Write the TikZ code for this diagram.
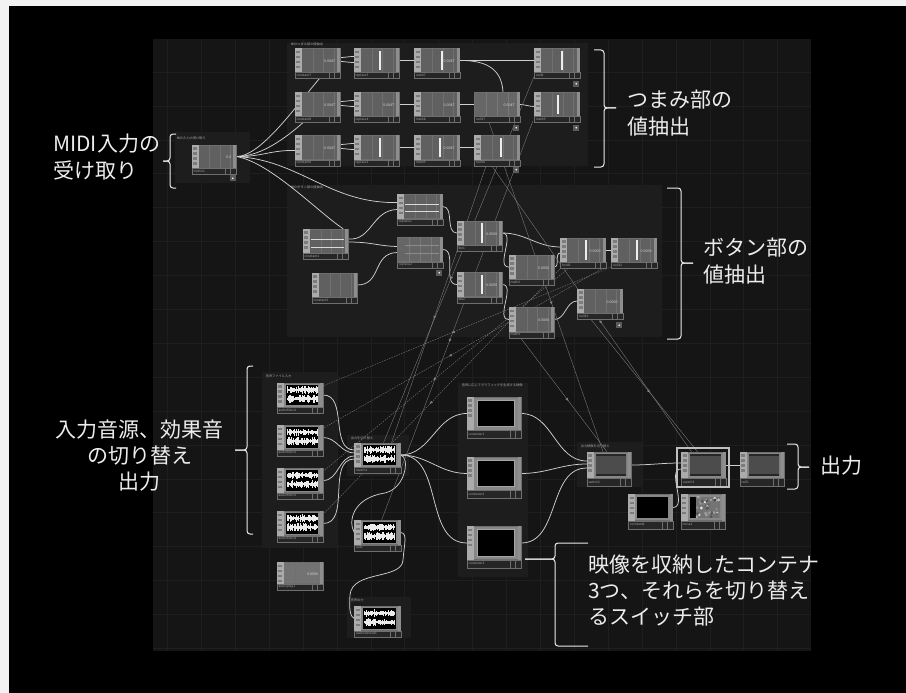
\documentclass[tikz,border=0pt]{standalone}
\usepackage{fontspec}
\setmainfont{Noto Sans CJK JP}
\usetikzlibrary{calc,decorations.markings}
\definecolor{panelc}{HTML}{151515}
\definecolor{gridc}{HTML}{1F1F1F}
\definecolor{grpc}{HTML}{1D1D1D}
\definecolor{chopc}{HTML}{606060}
\definecolor{chopln}{HTML}{707070}
\definecolor{flatc}{HTML}{666666}
\definecolor{flatln}{HTML}{787878}
\definecolor{stripc}{HTML}{ABABAB}
\definecolor{iconc}{HTML}{7C7C7C}
\definecolor{striprc}{HTML}{8E8E8E}
\definecolor{lbarc}{HTML}{262626}
\definecolor{lbard}{HTML}{6E6E6E}
\definecolor{lblc}{HTML}{A8A8A8}
\definecolor{wirec}{HTML}{CFCFCF}
\definecolor{refc}{HTML}{808080}
\definecolor{framec}{HTML}{878787}
\definecolor{innerbd}{HTML}{A5A5A5}
\definecolor{annc}{HTML}{ECECEC}
\definecolor{barc}{HTML}{EDEDED}
\definecolor{flagc}{HTML}{5A5A5A}
\definecolor{borderc}{HTML}{F2F2F2}
\pgfdeclarelayer{bg}
\pgfdeclarelayer{wl}
\pgfsetlayers{bg,wl,main}
\tikzset{
  opbody/.style={draw=lbard, line width=0.4pt, fill=chopc, inner sep=0pt, minimum width=45pt, minimum height=24pt},
  audbody/.style={opbody, fill=framec, minimum width=46pt, minimum height=24pt},
  contbody/.style={opbody, fill=framec, minimum width=54pt, minimum height=33pt},
  topbody/.style={opbody, fill=framec, minimum width=44pt, minimum height=26pt},
  lbltext/.style={font=\fontsize{3.2}{3.5}\selectfont, text=lblc, anchor=west, inner sep=0pt},
  valtext/.style={font=\fontsize{3.6}{4}\selectfont, text=white!85!black, inner sep=0pt, anchor=east},
  grptitle/.style={font=\fontsize{3.2}{3.5}\selectfont, text=lblc, anchor=south west, inner sep=0.6pt},
  wire/.style={draw=wirec, line width=0.75pt},
  refline/.style={draw=refc, line width=0.35pt, postaction={decorate},
    decoration={markings, mark=at position 0.55 with {\fill[refc] (1.4pt,0pt) -- (-1.6pt,1.4pt) -- (-1.6pt,-1.4pt) -- cycle;}}},
  refdash/.style={refline, dash pattern=on 1.6pt off 1pt},
  ann/.style={font=\fontsize{21}{27}\selectfont, text=annc, inner sep=0pt},
  ann3/.style={font=\fontsize{21}{26}\selectfont, text=annc, inner sep=0pt},
  bracec/.style={draw=annc, line width=1pt, rounded corners=3pt},
}
\newcommand\opfoot[3]{%
  \fill[striprc] ([xshift=-3pt]#1.north east) rectangle (#1.south east);
  \draw[draw=lbard,fill=lbarc,line width=0.4pt] (#1.south west) rectangle ([yshift=-#3pt]#1.south east);
  \draw[lbard,line width=0.3pt] ([xshift=-11pt]#1.south east) -- ++(0pt,-#3pt) ([xshift=-6pt]#1.south east) -- ++(0pt,-#3pt);
  \node[lbltext] (#1-l) at ([xshift=1.5pt,yshift=-#3pt/2]#1.south west) {#2};}
\newcommand\opdeco[3]{%
  \fill[stripc] (#1.north west) rectangle ([xshift=7pt]#1.south west);
  \foreach \kk in {0,1,2,3}{\fill[iconc] ([xshift=1.5pt,yshift=-2.5pt-\kk*5pt]#1.north west) rectangle ++(4pt,-2.6pt);}
  \opfoot{#1}{#2}{#3}}
\newcommand\chop[5][opbody]{%
  \node[#1] (#2) at (#3,#4) {};
  \foreach \ff in {0.4,0.63,0.86}{\draw[chopln,line width=0.3pt] ($(#2.north west)!\ff!(#2.north east)$) -- ($(#2.south west)!\ff!(#2.south east)$);}
  \opdeco{#2}{#5}{6}}
\newcommand\flatop[4]{%
  \node[opbody,fill=flatc] (#1) at (#2,#3) {};
  \foreach \ff in {0.25,0.5,0.75}{\draw[flatln,line width=0.3pt] ($(#1.north west)!\ff!(#1.north east)$) -- ($(#1.south west)!\ff!(#1.south east)$);}
  \opfoot{#1}{#4}{6}}
\newcommand\vbar[2]{\fill[barc] ([xshift=#2pt-1pt,yshift=-2.5pt]#1.north) rectangle ([xshift=#2pt+1.3pt,yshift=2.5pt]#1.south);}
\newcommand\vtext[2]{\node[valtext] (#1-v) at ([xshift=-5pt,yshift=-1pt]#1.east) {#2};}
\newcommand\hln[3]{\draw[#3,line width=0.6pt] ([xshift=8pt,yshift=-#2pt]#1.north west) -- ([xshift=-4pt,yshift=-#2pt]#1.north east);}
\newcommand\flagsq[2]{%
  \fill[flagc] ([xshift=-6.5pt,yshift=-#2pt]#1.south east) rectangle ([xshift=-0.5pt,yshift=-#2pt-6pt]#1.south east);
  \fill[white] ([xshift=-3.5pt,yshift=-#2pt-3pt]#1.south east) circle (0.9pt);}
\newcommand\aud[4]{%
  \node[audbody] (#1) at (#2,#3) {};
  \fill[black] ([xshift=9pt,yshift=-2pt]#1.north west) rectangle ([xshift=-5pt,yshift=2pt]#1.south east);
  \foreach \i in {0,...,30}{\pgfmathsetmacro\hwa{0.8+3.2*rnd}\pgfmathsetmacro\hwb{0.8+3.4*rnd}
    \draw[white!92!black,line width=0.9pt] ([xshift=10.3pt+\i*1pt,yshift=-7pt+\hwa pt]#1.north west) -- ++(0pt,-2*\hwa pt);
    \draw[white!92!black,line width=0.9pt] ([xshift=10.3pt+\i*1pt,yshift=-16pt+\hwb pt]#1.north west) -- ++(0pt,-2*\hwb pt);}
  \opdeco{#1}{#4}{6}}
\newcommand\cont[4]{%
  \node[contbody] (#1) at (#2,#3) {};
  \filldraw[fill=black, draw=innerbd, line width=1.2pt] ([xshift=11pt,yshift=-3.5pt]#1.north west) rectangle ([xshift=-7pt,yshift=3.5pt]#1.south east);
  \opdeco{#1}{#4}{8}}
\newcommand\topg[4]{%
  \node[topbody] (#1) at (#2,#3) {};
  \shade[top color=black!70, middle color=white!68!black, bottom color=black!70] ([xshift=9pt,yshift=-2.5pt]#1.north west) rectangle ([xshift=-5pt,yshift=2.5pt]#1.south east);
  \fill[black!85] ([xshift=9pt,yshift=-2.5pt]#1.north west) rectangle ([xshift=-5pt,yshift=-4.5pt]#1.north east);
  \fill[black!85] ([xshift=9pt,yshift=2.5pt]#1.south west) rectangle ([xshift=-5pt,yshift=4.5pt]#1.south east);
  \opdeco{#1}{#4}{8}}
\newcommand\topk[4]{%
  \node[topbody] (#1) at (#2,#3) {};
  \fill[black] ([xshift=9pt,yshift=-2.5pt]#1.north west) rectangle ([xshift=-5pt,yshift=2.5pt]#1.south east);
  \opdeco{#1}{#4}{8}}
\newcommand\topnoise[4]{%
  \node[topbody] (#1) at (#2,#3) {};
  \fill[black] ([xshift=9pt,yshift=-2.5pt]#1.north west) rectangle ([xshift=-5pt,yshift=2.5pt]#1.south east);
  \begin{scope}
    \clip ([xshift=15pt,yshift=-2.5pt]#1.north west) rectangle ([xshift=-5pt,yshift=2.5pt]#1.south east);
    \fill[white!45!black] ([xshift=15pt,yshift=-2.5pt]#1.north west) rectangle ([xshift=-5pt,yshift=2.5pt]#1.south east);
    \foreach \i in {1,...,45}{\pgfmathsetmacro\nx{15+24*rnd}\pgfmathsetmacro\ny{2.5+21*rnd}\pgfmathsetmacro\ng{20+75*rnd}
      \fill[white!\ng!black] ([xshift=\nx pt,yshift=-\ny pt]#1.north west) circle (1.5pt);}
  \end{scope}
  \opdeco{#1}{#4}{8}}

\begin{document}
\begin{tikzpicture}[x=1pt,y=-1pt]
\pgfmathsetseed{7}
\useasboundingbox (0,0) rectangle (906,693);
\begin{pgfonlayer}{bg}
  \fill[black] (0,0) rectangle (906,693);
  \fill[borderc] (0,0) rectangle (906,6);
  \fill[borderc] (0,0) rectangle (9,693);
  \fill[panelc] (153,39) rectangle (811,651);
  \foreach \i in {0,...,18}{\draw[gridc,line width=0.5pt] ({167.4+33.9*\i},39) -- ++(0,612);}
  \foreach \i in {0,...,17}{\draw[gridc,line width=0.5pt] (153,{72+33.9*\i}) -- ++(658,0);}
  % group boxes
  \fill[grpc] (175,132) rectangle (250,183);
  \fill[grpc] (287,43) rectangle (588,166);
  \fill[grpc] (287,185) rectangle (662,337);
  \fill[grpc] (262,372) rectangle (337,548);
  \fill[grpc] (347,435) rectangle (409,476);
  \fill[grpc] (458,383) rectangle (528,577);
  \fill[grpc] (577,442) rectangle (642,487);
  \fill[grpc] (347,597) rectangle (411,638);
  \node[grptitle] (g1) at (176,141) {MIDI入力の受け取り};
  \node[grptitle] (g2) at (290,47) {MIDIつまみ部の値抽出};
  \node[grptitle] (g3) at (290,190) {MIDIボタン部の値抽出};
  \node[grptitle] (g4) at (265,379) {音声ファイル入力};
  \node[grptitle] (g5) at (350,441) {出力を切り替え};
  \node[grptitle] (g6) at (461,388) {音声に応じてグラフィックを生成する映像};
  \node[grptitle] (g7) at (580,449) {出力映像を切り替え};
  \node[grptitle] (g8) at (350,603) {音声出力};
\end{pgfonlayer}

% ---------- nodes: MIDI ----------
\chop[opbody,minimum width=44pt,minimum height=23pt]{midiin1}{214}{156.5}{midiin1}
\vtext{midiin1}{0.0}\flagsq{midiin1}{7}
% top rows
\chop{c7}{317.5}{60.5}{constant7}\vtext{c7}{0.0047}
\chop{rep5}{376.5}{60.5}{replace5}\vbar{rep5}{3.5}
\chop{m7}{437}{60.5}{math7}\vbar{m7}{5}\vtext{m7}{0.0047}
\chop{n4}{557}{60.5}{null4}\vbar{n4}{5}\flagsq{n4}{8}
\chop{c8}{317.5}{104.5}{constant8}\vtext{c8}{0.0047}
\chop{rep4}{376.5}{104.5}{replace4}\vtext{rep4}{0.0047}
\chop{m8}{437}{104.5}{math8}\vtext{m8}{0.0047}
\flatop{n17}{497}{104.5}{null17}\vtext{n17}{0.0047}\flagsq{n17}{8}
\chop{m9}{557}{104.5}{math9}\vbar{m9}{1}\flagsq{m9}{8}
\chop{c6}{317.5}{147.5}{constant6}\vtext{c6}{0.0047}
\chop{rep3}{376.5}{147.5}{replace3}\vbar{rep3}{3.5}
\chop{m5}{437}{147.5}{math5}\vbar{m5}{3}\vtext{m5}{0.0047}
\chop{n16}{497}{147.5}{null16}\vbar{n16}{4}\flagsq{n16}{7}
% button section
\chop{rep1}{420}{206.5}{replace1}\hln{rep1}{10}{white!85!black}\hln{rep1}{17}{white!85!black}
\chop{con1}{325.5}{241}{constant1}\hln{con1}{10}{white!85!black}\hln{con1}{18}{white!85!black}
\flatop{rep2}{420}{249.5}{replace2}\hln{rep2}{8}{white!55!black}\hln{rep2}{16}{white!55!black}\flagsq{rep2}{8}
\chop{con3}{334.5}{285}{constant3}
\chop{fan1}{479.5}{233}{fan1}\vbar{fan1}{2.5}\vtext{fan1}{0.0000}
\chop{fan2}{479.5}{284.5}{fan2}\vbar{fan2}{2.5}\vtext{fan2}{0.0000}
\chop{m2}{531.5}{267}{math2}\vtext{m2}{0.0000}
\chop{hold1}{583}{250}{hold1}\vbar{hold1}{3}\vtext{hold1}{0.0000}
\chop{n12}{634}{250}{null12}\vbar{n12}{3}\vtext{n12}{0.0000}
\chop{m4}{531.5}{319.5}{math4}\vtext{m4}{0.0000}
\chop{n14}{600}{301}{null14}\vtext{n14}{0.0000}\flagsq{n14}{9}
% audio
\aud{af1}{300}{395}{audiofilein1}
\aud{af2}{300}{437.5}{audiofilein2}
\aud{af3}{300}{480.5}{audiofilein3}
\aud{af4}{300}{523.5}{audiofilein4}
\chop[opbody,fill=white!45!black,minimum width=46pt,minimum height=21pt]{apl}{300}{573}{audioplay1}\vtext{apl}{0.0000}
\aud{sw1}{377.5}{455}{switch1}
\aud{out1}{377.5}{532.5}{out1}
\aud{adev}{377.5}{618.5}{audiodevout1}
% containers
\cont{cont1}{494}{413.5}{container1}
\cont{cont2}{494}{473.5}{container2}
\cont{cont3}{494}{543}{container3}
% output
\topg{sw2}{609}{465}{switch2}
\topg{sw3}{703.5}{465}{switch3}
\draw[white!75!black,line width=1.1pt] (677,448) rectangle (729,487);
\topg{nul1}{762}{465}{null1}
\topk{const2}{650.5}{507.5}{constant2}
\topnoise{noise1}{703}{507.5}{noise1}

% ---------- wires ----------
\begin{pgfonlayer}{wl}
  \draw[wire] (midiin1.east) .. controls (262,157) and (300,100) .. ([xshift=7pt]c7.south);
  \draw[wire] (midiin1.east) .. controls (262,157) and (290,135) .. ([xshift=-8pt]c8.south);
  \draw[wire] (midiin1.east) .. controls (262,157) and (270,150) .. ([yshift=-3pt]c6.west);
  \draw[wire] (midiin1.east) .. controls (300,160) and (330,204) .. ([yshift=4pt]rep1.west);
  \draw[wire] (midiin1.east) .. controls (270,162) and (318,212) .. ([xshift=-5pt]con1.north east);
  \draw[wire] ([yshift=2pt]con1.east) .. controls (372,241) and (372,210) .. ([yshift=-3pt]rep1.west);
  \draw[wire] ([yshift=-1pt]con1.east) .. controls (372,242) and (378,246) .. ([yshift=3pt]rep2.west);
  \draw[wire] (con3.east) .. controls (382,285) and (372,253) .. ([yshift=-3pt]rep2.west);
  % top rows
  \foreach \a/\b in {c7/rep5,c8/rep4,c6/rep3}{
    \draw[wire] ([yshift=3pt]\a.east) to[out=0,in=180] ([yshift=4pt]\b.west);
    \draw[wire] ([yshift=-1pt]\a.east) to[out=0,in=180] ([yshift=-2pt]\b.west);}
  \draw[wire] (rep5.east) -- (m7.west);
  \draw[wire] (m7.east) -- (n4.west);
  \draw[wire] (m7.east) .. controls (490,60) and (502,72) .. ([xshift=6pt]n17.north);
  \draw[wire] (rep4.east) -- (m8.west);
  \draw[wire] (m8.east) -- (n17.west);
  \draw[wire] (n17.east) to[out=0,in=180] ([yshift=-2pt]m9.west);
  \draw[wire] (rep3.east) -- (m5.west);
  \draw[wire] (m5.east) -- (n16.west);
  % buttons
  \draw[wire] (rep1.east) to[out=0,in=180] (fan1.west);
  \draw[wire] (rep2.east) to[out=0,in=180] (fan2.west);
  \draw[wire] (fan1.east) to[out=0,in=180] ([yshift=3pt]hold1.west);
  \draw[wire] (fan1.east) to[out=0,in=180] (m2.west);
  \draw[wire] (m2.east) to[out=0,in=180] ([yshift=-3pt]hold1.west);
  \draw[wire] (hold1.east) -- (n12.west);
  \draw[wire] (fan2.east) to[out=0,in=180] (m4.west);
  \draw[wire] (m4.east) to[out=0,in=180] (n14.west);
  % audio
  \draw[wire] (af1.east) to[out=0,in=180] ([yshift=5pt]sw1.west);
  \draw[wire] (af2.east) to[out=0,in=180] ([yshift=2pt]sw1.west);
  \draw[wire] (af3.east) to[out=0,in=180] ([yshift=-1pt]sw1.west);
  \draw[wire] (af4.east) to[out=0,in=180] ([yshift=-4pt]sw1.west);
  \draw[wire] (sw1.east) to[out=0,in=180] (cont1.west);
  \draw[wire] (sw1.east) to[out=0,in=180] (cont2.west);
  \draw[wire] (sw1.east) to[out=0,in=180] (cont3.west);
  \draw[wire] (sw1.east) .. controls (410,457) and (406,488) .. (385,493) .. controls (352,498) and (348,522) .. (out1.west);
  \draw[wire] (out1.east) .. controls (408,533) and (404,545) .. (403,560) .. controls (402,580) and (352,570) .. (350,595) .. controls (349,608) and (350,617) .. (adev.west);
  \draw[wire] (cont1.east) to[out=0,in=180] ([yshift=4pt]sw2.west);
  \draw[wire] (cont2.east) to[out=0,in=180] ([yshift=1pt]sw2.west);
  \draw[wire] (cont3.east) to[out=0,in=180] ([yshift=-3pt]sw2.west);
  \draw[wire] (sw2.east) to[out=0,in=180] ([yshift=2pt]sw3.west);
  \draw[wire] (sw3.east) -- (nul1.west);
  \draw[wire] (const2.east) to[out=0,in=180] ([yshift=-4pt]sw3.west);
  % reference lines
  \draw[refdash] ([xshift=-6pt]n12-l.south) -- ([yshift=-3pt]af1.north east);
  \draw[refdash] ([xshift=-12pt]n12-l.south) -- ([yshift=-3pt]af2.north east);
  \draw[refdash] ([xshift=4pt]hold1-l.south) -- ([yshift=-3pt]af3.north east);
  \draw[refdash] ([xshift=-4pt]hold1-l.south) -- ([yshift=-3pt]af4.north east);
  \draw[refline] ([xshift=-6pt]n4-l.south) -- ([xshift=6pt]sw1.north);
  \draw[refline] ([xshift=-8pt]m9-l.south) -- ([xshift=4pt]out1.north);
  \draw[refline] ([xshift=6pt]n16-l.south) -- ([xshift=14pt]sw1.north);
  \draw[refline] ([xshift=8pt]n17-l.south) -- ([xshift=-6pt]sw2.north);
  \draw[refline] ([xshift=10pt]n16-l.south) -- ([xshift=-12pt]sw3.north);
  \draw[refline] ([xshift=4pt]m4-l.south) -- ([xshift=-2pt]sw2.north);
  \draw[refline] ([xshift=6pt]n14-l.south) -- ([xshift=-6pt]sw3.north);
\end{pgfonlayer}

% ---------- annotations ----------
\node[ann, anchor=west, align=left] (t1) at (53,157.5) {MIDI入力の\\受け取り};
\draw[bracec] (176,134) -- (170,134) -- (170,161) -- (163,161);
\draw[bracec] (163,161) -- (170,161) -- (170,188) -- (176,188);
\node[ann, anchor=west, align=left] (t2) at (627,113.5) {つまみ部の\\値抽出};
\draw[bracec] (594,50) -- (604,50) -- (604,108) -- (616,108);
\draw[bracec] (616,108) -- (604,108) -- (604,167) -- (594,167);
\node[ann, anchor=west, align=left] (t3) at (703,261.5) {ボタン部の\\値抽出};
\draw[bracec] (667,188) -- (681,188) -- (681,263) -- (693,263);
\draw[bracec] (693,263) -- (681,263) -- (681,339) -- (667,339);
\node[ann3, align=center] (t4) at (140,456) {入力音源、効果音\\の切り替え\\出力};
\draw[bracec] (253,366) -- (247,366) -- (247,450) -- (235,450);
\draw[bracec] (235,450) -- (247,450) -- (247,534) -- (253,534);
\node[ann, anchor=west] (t5) at (820,466) {出力};
\draw[bracec] (787,444) -- (798,444) -- (798,467) -- (809,467);
\draw[bracec] (809,467) -- (798,467) -- (798,489) -- (787,489);
\node[ann3, anchor=west, align=left] (t6) at (588,591) {映像を収納したコンテナ\\3つ、それらを切り替え\\るスイッチ部};
\draw[bracec] (588,543) -- (555,543) -- (555,559) -- (525,559);
\draw[bracec] (525,559) -- (555,559) -- (555,646) -- (588,646);
\end{tikzpicture}
\end{document}
